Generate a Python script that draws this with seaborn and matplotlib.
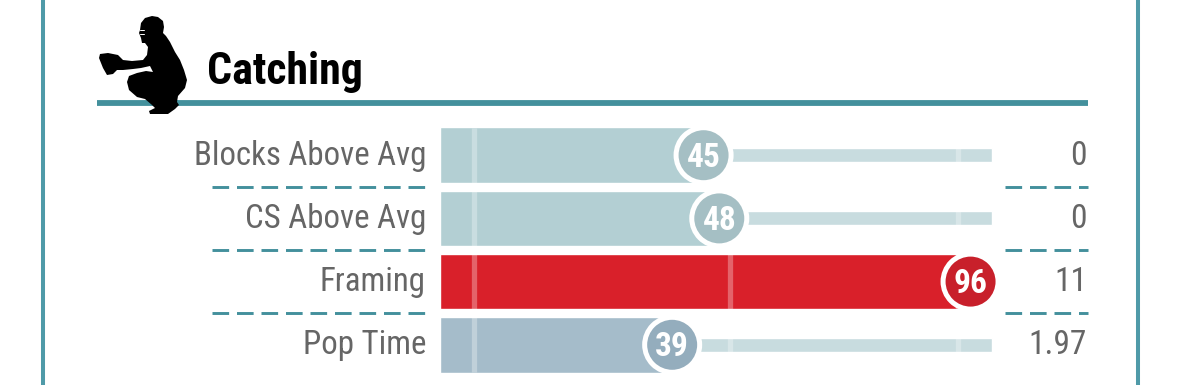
import matplotlib
matplotlib.use("Agg")
import matplotlib.pyplot as plt
from matplotlib.patches import Polygon
import pandas as pd
import seaborn as sns

# --- DATA ---
TITLE = "Catching"
LABELS = ["Blocks Above Avg", "CS Above Avg", "Framing", "Pop Time"]
PERCENTILES = [45, 48, 96, 39]
RAW_VALUES = ["0", "0", "11", "1.97"]
REFERENCE_MARKS = [1.1, 50.0, 93.6]

# --- STYLE ---
W, H = 1179, 385
TEAL = "#43909c"
FRAME = "#4f9aa8"
GREY = "#666666"
TRACK = "#c8dcdf"
BAR_COLORS = ["#b3cfd3", "#b3cfd3", "#d9202a", "#a5bcca"]
DOT_COLORS = ["#a5bfc4", "#a5bfc4", "#c8202b", "#94adbd"]
FONTS = ["Roboto Condensed", "Barlow Condensed", "DejaVu Sans"]

# pixel geometry
PX_PER_UNIT = 5.235
BAR_LEFT_PX = 440
ZERO_PX = 468
PAD = (ZERO_PX - BAR_LEFT_PX) / PX_PER_UNIT
TOP_ROW_PX = 155.2
ROW_PX = 63.2

# catcher icon outline, in pixels
ICON = [(140, 30), (141, 23), (145, 18), (152, 16), (158, 17), (163, 21), (164, 27), (163, 33),
        (166, 36), (170, 42), (175, 52), (180, 60), (184, 70), (187, 80), (185, 88), (178, 96),
        (177, 102), (179, 105), (175, 109), (168, 114), (150, 114), (149, 111), (155, 108),
        (152, 105), (145, 99), (137, 97), (129, 90), (127, 82), (129, 76), (137, 73), (146, 71),
        (153, 72), (150, 66), (141, 68), (133, 69), (123, 70), (117, 70), (113, 74), (107, 75),
        (103, 68), (99, 58), (100, 54), (108, 53), (118, 55), (123, 60), (132, 61), (143, 60),
        (147, 55), (148, 47), (145, 43), (142, 43), (141, 38), (139, 33)]

df = pd.DataFrame({"label": LABELS, "score": PERCENTILES})
df["row"] = range(len(df))
df["bar_end"] = df["score"] + PAD

sns.set_style("white")
plt.rcParams["font.family"] = FONTS

fig = plt.figure(figsize=(W / 100, H / 100), dpi=100)

# page layer, in pixel coordinates: frame, heading, labels
page = fig.add_axes([0, 0, 1, 1])
page.set_xlim(0, W)
page.set_ylim(H, 0)
page.set_axis_off()

page.axvline(42.5, color=FRAME, lw=2.9)
page.axvline(1138, color=FRAME, lw=2.9)
page.plot([97, 1088], [103, 103], color=TEAL, lw=4.2, solid_capstyle="butt")
page.add_patch(Polygon(ICON, closed=True, color="black", lw=0, zorder=4))
# mask bars on the face
for y in (30, 33.5):
    page.plot([140, 144], [y, y], color="white", lw=0.7, zorder=5)
page.text(207, 84, TITLE, fontsize=31.6, fontweight="bold", color="black", va="baseline", ha="left")

for i in range(len(LABELS) - 1):
    y = TOP_ROW_PX + ROW_PX * (i + 0.5)
    for x0, x1 in [(212, 427), (1005, 1088)]:
        page.plot([x0, x1], [y, y], color=TEAL, lw=2.1, dashes=(5.7, 2.7), dash_capstyle="butt")

for i, (label, raw) in enumerate(zip(LABELS, RAW_VALUES)):
    y = TOP_ROW_PX + ROW_PX * i
    page.text(426, y + 9.5, label, fontsize=23.7, color=GREY, ha="right", va="baseline")
    page.text(1087, y + 9.5, raw, fontsize=24, color=GREY, ha="right", va="baseline")

# data layer: x runs in percentile + PAD, y in rows
ax = fig.add_axes([0, 0, 1, 1])
ax.patch.set_alpha(0)

track_end = 100.1 + PAD
sns.barplot(x=[track_end] * len(df), y=df["label"], color=TRACK, saturation=1, width=14 / ROW_PX, ax=ax)
sns.barplot(data=df, x="bar_end", y="label", hue="label", palette=BAR_COLORS, saturation=1,
            width=55.5 / ROW_PX, legend=False, ax=ax)

for mark in REFERENCE_MARKS:
    for row, end in zip(df["row"], df["bar_end"]):
        half = 27.5 / ROW_PX if mark + PAD <= end else 7 / ROW_PX
        ax.vlines(mark + PAD, row - half, row + half, colors="white", alpha=0.3, lw=3.8,
                  capstyle="butt", zorder=4)

sns.scatterplot(data=df, x="bar_end", y="row", hue="label", palette=DOT_COLORS, s=1568,
                edgecolor="white", linewidth=3.6, legend=False, zorder=5, ax=ax)

for row, end, score in zip(df["row"], df["bar_end"], df["score"]):
    ax.text(end, row + 11.5 / ROW_PX, str(score), color="white", fontsize=24, fontweight="bold",
            ha="center", va="baseline", zorder=6)

ax.set_xlim(-BAR_LEFT_PX / PX_PER_UNIT, (W - BAR_LEFT_PX) / PX_PER_UNIT)
ax.set_ylim((H - TOP_ROW_PX) / ROW_PX, -TOP_ROW_PX / ROW_PX)
ax.set_axis_off()

fig.savefig("out.png", dpi=100)
